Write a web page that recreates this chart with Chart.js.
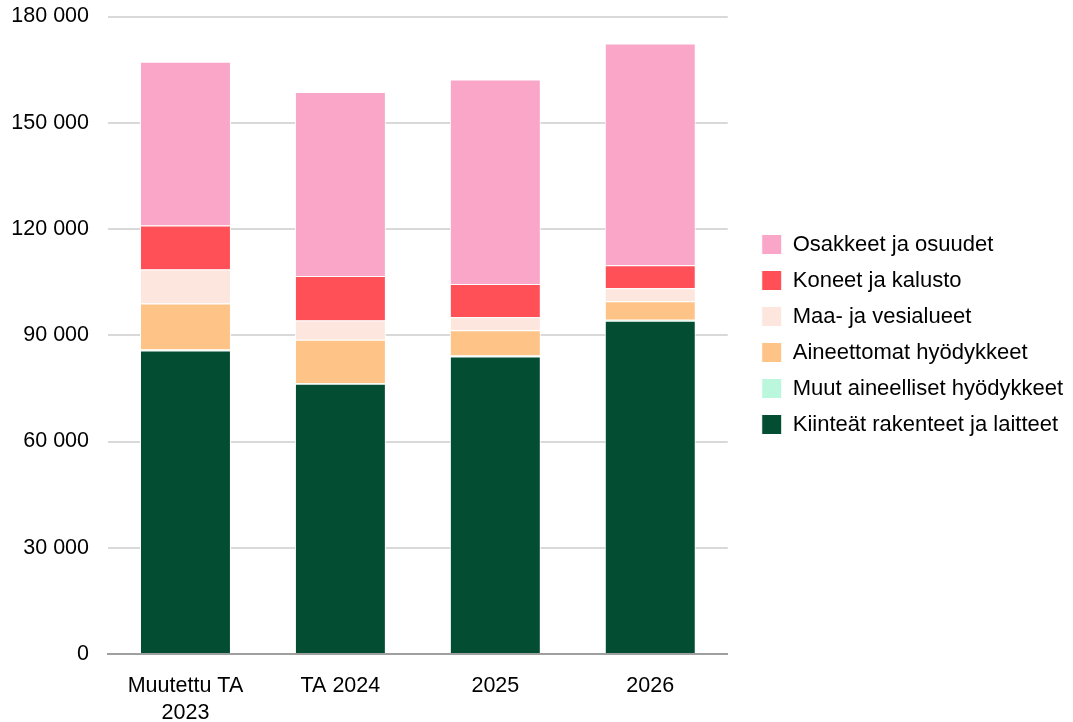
<!DOCTYPE html>
<html>
<head>
<meta charset="utf-8">
<script src="https://cdn.jsdelivr.net/npm/chart.js@4/dist/chart.umd.min.js"></script>
<style>
  html, body { margin: 0; padding: 0; background: #fff; }
  #wrap { width: 1073px; height: 722px; }
</style>
</head>
<body>
<div id="wrap"><canvas id="myChart" width="1073" height="722"></canvas></div>
<script>
// categories
var categories = [["Muutettu TA", "2023"], "TA 2024", "2025", "2026"];

// series values (1000 €), bottom of stack first
var kiinteat = [85700, 76300, 84000, 94100];
var muut = [300, 200, 300, 300];
var aineettomat = [13000, 12200, 7100, 5200];
var maaVesi = [9600, 5500, 3700, 3700];
var koneet = [12400, 12500, 9400, 6500];
var osakkeet = [46200, 52000, 57700, 62600];

var yTicks = [0, 30000, 60000, 90000, 120000, 150000, 180000];

var colors = {
    green: '#034d33',
    mint: '#baf7dc',
    orange: '#fec387',
    cream: '#fce6dd',
    red: '#ff5057',
    pink: '#faa6c8'
};

function ds(label, data, col) {
    return {
        label: label,
        data: data,
        backgroundColor: col,
        borderColor: '#ffffff',
        borderWidth: 1,
        barPercentage: 0.587,
        categoryPercentage: 1
    };
}

var barData = {
    labels: categories,
    datasets: [
        ds('Kiinteät rakenteet ja laitteet', kiinteat, colors.green),
        ds('Muut aineelliset hyödykkeet', muut, colors.mint),
        ds('Aineettomat hyödykkeet', aineettomat, colors.orange),
        ds('Maa- ja vesialueet', maaVesi, colors.cream),
        ds('Koneet ja kalusto', koneet, colors.red),
        ds('Osakkeet ja osuudet', osakkeet, colors.pink)
    ]
};

var tickFont = { family: "'Liberation Sans', Arial, sans-serif", size: 21.5, lineHeight: 1.25 };
var legendFont = { family: "'Liberation Sans', Arial, sans-serif", size: 22 };

var ctx = document.getElementById('myChart').getContext('2d');
var chart = new Chart(ctx, {
    type: 'bar',
    data: barData,
    options: {
        responsive: false,
        animation: false,
        layout: { padding: { top: 16.5, right: 0, left: 0, bottom: 0 } },
        plugins: {
            legend: {
                position: 'right',
                align: 'start',
                reverse: true,
                maxWidth: 400,
                // empty title only used to push the items down
                title: {
                    display: true,
                    text: '',
                    font: { size: 1, lineHeight: 1 },
                    padding: { top: 0, bottom: 202 }
                },
                labels: {
                    font: legendFont,
                    color: '#000',
                    boxWidth: 20,
                    boxHeight: 20,
                    padding: 14
                }
            },
            tooltip: { enabled: false }
        },
        scales: {
            x: {
                stacked: true,
                grid: { display: false, drawTicks: false },
                border: { display: true, color: '#a0a0a0', width: 2 },
                ticks: { font: tickFont, color: '#000', padding: 19, maxRotation: 0 },
                afterFit: function (s) { s.height = 68; }
            },
            y: {
                stacked: true,
                min: 0,
                max: 180000,
                afterBuildTicks: function (axis) {
                    axis.ticks = yTicks.map(function (v) { return { value: v }; });
                },
                afterFit: function (s) { s.width = 108; s.paddingTop = 0; },
                grid: { color: '#d9d9d9', lineWidth: 2, drawTicks: false },
                border: { display: false },
                ticks: {
                    font: tickFont,
                    color: '#000',
                    padding: 19,
                    callback: function (v) {
                        return String(v).replace(/\B(?=(\d{3})+(?!\d))/g, ' ');
                    }
                }
            },
            // empty axis: keeps a gap between the plot and the legend
            gap: {
                type: 'linear',
                position: 'right',
                display: true,
                grid: { display: false, drawTicks: false },
                border: { display: false },
                ticks: { display: false },
                afterFit: function (s) { s.width = 20; s.paddingTop = 0; }
            }
        }
    }
});
</script>
</body>
</html>
